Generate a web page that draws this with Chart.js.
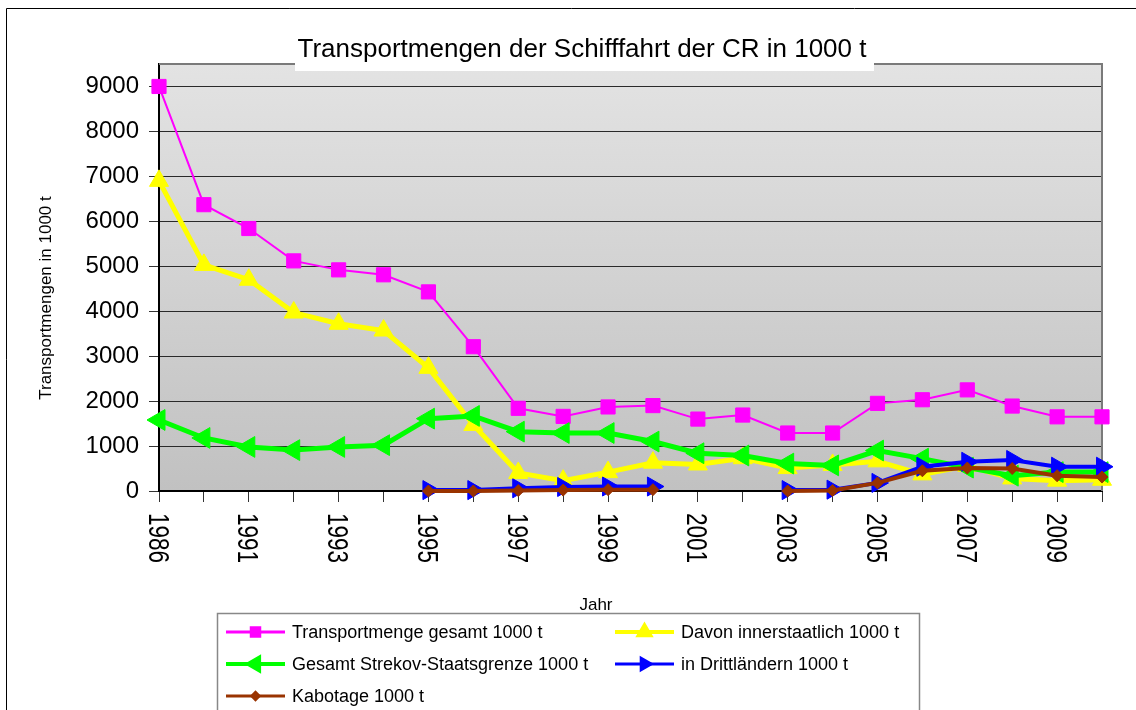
<!DOCTYPE html>
<html>
<head>
<meta charset="utf-8">
<script src="https://cdn.jsdelivr.net/npm/chart.js@4.4.1/dist/chart.umd.min.js"></script>
<style>
  html, body { margin: 0; padding: 0; background: #fff; }
  canvas { display: block; }
</style>
</head>
<body>
<canvas id="c" width="1136" height="710"></canvas>
<script>
/* Transportmengen der Schifffahrt der CR */
var years = ['1986', '1990', '1991', '1992', '1993', '1994', '1995', '1996', '1997', '1998', '1999',
  '2000', '2001', '2002', '2003', '2004', '2005', '2006', '2007', '2008', '2009', '2010'];
var gesamt = [9000, 6370, 5840, 5120, 4920, 4810, 4430, 3210, 1840, 1660, 1870,
  1900, 1600, 1690, 1290, 1290, 1950, 2030, 2250, 1890, 1650, 1650];
var innerstaatlich = [6900, 5030, 4700, 3970, 3720, 3570, 2740, 1470, 400, 230, 420,
  630, 590, 730, 510, 580, 660, 370, 560, 280, 230, 250];
var strekov = [1580, 1180, 980, 910, 980, 1020, 1610, 1670, 1320, 1290, 1290,
  1100, 840, 790, 610, 570, 900, 720, 520, 340, 420, 420];
var drittlaender = [null, null, null, null, null, null, 20, 20, 60, 90, 100,
  100, null, null, 20, 30, 180, 540, 650, 690, 540, 540];
var kabotage = [null, null, null, null, null, null, 0, 0, 10, 20, 30,
  30, null, null, 0, 10, 180, 450, 510, 500, 340, 310];
var yTicks = [0, 1000, 2000, 3000, 4000, 5000, 6000, 7000, 8000, 9000];

var FONT = '"Liberation Sans", Arial, sans-serif';

function ds(label, data, color, width, style, radius, rot, order) {
  return {
    label: label, data: data, borderColor: color, backgroundColor: color,
    borderWidth: width, pointStyle: style, pointRadius: radius, pointRotation: rot,
    pointBorderWidth: 1, pointBackgroundColor: color, pointBorderColor: color,
    pointHoverRadius: radius, tension: 0, spanGaps: false, clip: false, order: order
  };
}

var datasets = [
  ds('Transportmenge gesamt 1000 t', gesamt, '#ff00ff', 2, 'rect', 10, 0, 5),
  ds('Davon innerstaatlich 1000 t', innerstaatlich, '#ffff00', 5, 'triangle', 11, 0, 4),
  ds('Gesamt Strekov-Staatsgrenze 1000 t', strekov, '#00ff00', 5, 'triangle', 12, -90, 3),
  ds('in Drittländern 1000 t', drittlaender, '#0000ff', 4, 'triangle', 11, 90, 2),
  ds('Kabotage 1000 t', kabotage, '#993300', 4, 'rectRot', 6, 0, 1)
];

var decor = {
  id: 'decor',
  beforeDraw: function (c) {
    var ctx = c.ctx, a = c.chartArea;
    ctx.save();
    ctx.fillStyle = '#fff';
    ctx.fillRect(0, 0, c.width, c.height);
    var g = ctx.createLinearGradient(0, a.top, 0, a.bottom);
    g.addColorStop(0, '#e3e3e3');
    g.addColorStop(1, '#c1c1c1');
    ctx.fillStyle = g;
    ctx.fillRect(a.left, a.top, a.right - a.left, a.bottom - a.top);
    ctx.restore();
  },
  beforeDatasetsDraw: function (c) {
    var ctx = c.ctx, a = c.chartArea;
    ctx.save();
    ctx.strokeStyle = '#7a7a7a'; ctx.lineWidth = 2;
    ctx.beginPath();
    ctx.moveTo(a.left, a.top); ctx.lineTo(a.right, a.top); ctx.lineTo(a.right, a.bottom);
    ctx.stroke();
    ctx.restore();
  },
  afterDraw: function (c) {
    var ctx = c.ctx, a = c.chartArea, xs = c.scales.x;
    ctx.save();
    // outer frame
    ctx.strokeStyle = '#000'; ctx.lineWidth = 1;
    ctx.beginPath();
    ctx.moveTo(6.5, 720); ctx.lineTo(6.5, 8.5); ctx.lineTo(1140, 8.5);
    ctx.stroke();
    // title with white box
    ctx.fillStyle = '#fff';
    ctx.fillRect(295, 30, 579, 41);
    ctx.fillStyle = '#000';
    ctx.font = '26px ' + FONT;
    ctx.textAlign = 'center'; ctx.textBaseline = 'alphabetic';
    ctx.fillText('Transportmengen der Schifffahrt der CR in 1000 t', 582, 57);
    // y title
    ctx.save();
    ctx.translate(51, 298);
    ctx.rotate(-Math.PI / 2);
    ctx.font = '17px ' + FONT;
    ctx.fillText('Transportmengen in 1000 t', 0, 0);
    ctx.restore();
    // x tick labels, rotated clockwise, every other year
    ctx.font = '30px ' + FONT;
    ctx.textAlign = 'left';
    years.forEach(function (y, i) {
      if (i % 2) return;
      var x = xs.getPixelForValue(i);
      ctx.save();
      ctx.translate(x, 513);
      ctx.rotate(Math.PI / 2);
      ctx.scale(0.75, 1);
      ctx.fillText(y, 0, 10.5);
      ctx.restore();
    });
    // x title
    ctx.font = '17px ' + FONT;
    ctx.textAlign = 'center';
    ctx.fillText('Jahr', 596, 610);
    // legend
    ctx.strokeStyle = '#888'; ctx.lineWidth = 1.5;
    ctx.strokeRect(217.5, 613.5, 702, 120);
    var pos = [[226, 632], [615, 632], [226, 664], [615, 664], [226, 696]];
    ctx.font = '18px ' + FONT;
    ctx.textAlign = 'left'; ctx.textBaseline = 'middle';
    c.data.datasets.forEach(function (d, i) {
      var p = pos[i];
      ctx.strokeStyle = d.borderColor; ctx.fillStyle = d.borderColor;
      ctx.lineWidth = Math.max(3, d.borderWidth - 1);
      ctx.beginPath(); ctx.moveTo(p[0], p[1]); ctx.lineTo(p[0] + 59, p[1]); ctx.stroke();
      Chart.helpers.drawPoint(ctx, {
        pointStyle: d.pointStyle, radius: d.pointRadius * 0.6,
        rotation: d.pointRotation, borderWidth: 1
      }, p[0] + 29.5, p[1]);
      ctx.fillStyle = '#000';
      ctx.fillText(d.label, p[0] + 66, p[1] + 1);
    });
    ctx.restore();
  }
};

new Chart(document.getElementById('c'), {
  type: 'line',
  data: { labels: years, datasets: datasets },
  plugins: [decor],
  options: {
    responsive: false,
    animation: false,
    devicePixelRatio: 1,
    layout: { padding: { left: 0, right: 34, top: 64, bottom: 0 } },
    plugins: { legend: { display: false }, title: { display: false }, tooltip: { enabled: false } },
    scales: {
      x: {
        type: 'category',
        offset: false,
        afterFit: function (s) { s.height = 219; },
        ticks: { display: false, autoSkip: false },
        grid: { drawOnChartArea: false, drawTicks: true, tickLength: 11, color: '#333', lineWidth: 1 },
        border: { display: true, color: '#000', width: 2 }
      },
      y: {
        min: 0, max: 9500,
        afterFit: function (s) { s.width = 159; },
        afterBuildTicks: function (s) {
          var t = [];
          for (var v = 0; v <= 9500; v += 500) t.push({ value: v });
          s.ticks = t;
        },
        ticks: {
          padding: 10, color: '#000', font: { family: FONT, size: 24 },
          callback: function (v) { return yTicks.indexOf(v) >= 0 ? String(v) : ''; }
        },
        grid: { color: '#2a2a2a', lineWidth: 1, tickLength: 10, tickColor: '#333' },
        border: { display: true, color: '#000', width: 2 }
      }
    }
  }
});
</script>
</body>
</html>
